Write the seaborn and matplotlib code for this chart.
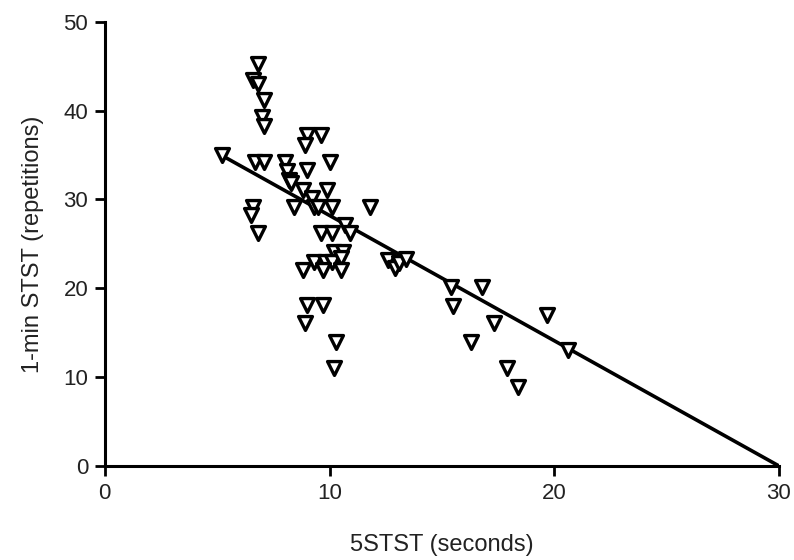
import matplotlib
matplotlib.use('Agg')
import matplotlib.pyplot as plt
import seaborn as sns
import numpy as np
import pandas as pd

# 5STST (seconds) vs 1-min STST (repetitions)
stst5_seconds = [5.2, 6.8, 6.6, 6.8, 7.1, 7.0, 7.1, 6.7, 7.1, 6.6,
                 6.5, 6.8, 8.0, 8.1, 8.2, 8.3, 8.4, 9.0, 9.6, 8.9,
                 10.0, 9.0, 8.8, 9.9, 9.2, 9.3, 9.5, 10.1, 11.8, 9.6,
                 10.1, 10.7, 10.9, 10.2, 10.6, 9.3, 9.8, 10.1, 10.5, 8.8,
                 9.7, 10.5, 12.6, 12.9, 13.1, 13.4, 9.0, 9.7, 8.9, 10.3,
                 10.2, 15.4, 16.8, 15.5, 17.3, 16.3, 19.7, 20.6, 17.9, 18.4]
stst1min_reps = [35.0, 45.3, 43.4, 43.0, 41.2, 39.3, 38.3, 34.2, 34.2, 29.2,
                 28.3, 26.2, 34.2, 33.2, 32.2, 31.9, 29.2, 37.3, 37.3, 36.1,
                 34.2, 33.3, 31.1, 31.1, 30.2, 29.2, 29.2, 29.2, 29.2, 26.2,
                 26.2, 27.1, 26.2, 24.1, 24.1, 23.0, 23.0, 23.0, 23.4, 22.1,
                 22.1, 22.1, 23.2, 22.3, 22.9, 23.3, 18.1, 18.1, 16.1, 14.0,
                 11.0, 20.2, 20.2, 18.0, 16.1, 14.0, 17.0, 13.1, 11.0, 8.9]

# fitted line as drawn in the figure
fit_range = [5.1, 30.0]
fit_intercept = 42.3
fit_slope = -1.41

df = pd.DataFrame({'x': stst5_seconds, 'y': stst1min_reps})
fit_x = np.array(fit_range)
fit_df = pd.DataFrame({'x': fit_x, 'y': fit_intercept + fit_slope * fit_x})

sns.set_style('ticks')
plt.rcParams['font.family'] = ['Liberation Sans', 'DejaVu Sans']

fig = plt.figure(figsize=(7.94, 5.6), dpi=100)
ax = fig.add_axes([0.132, 0.168, 0.849, 0.793])

sns.lineplot(data=fit_df, x='x', y='y', color='black', linewidth=2.6, ax=ax, zorder=2)
sns.scatterplot(data=df, x='x', y='y', marker='v', s=100, facecolor='white',
                edgecolor='black', linewidth=2.4, ax=ax, zorder=3, clip_on=False)

ax.set_xlim(0, 30)
ax.set_ylim(0, 50)
ax.set_xticks([0, 10, 20, 30])
ax.set_yticks([0, 10, 20, 30, 40, 50])
ax.set_xlabel('5STST (seconds)', fontsize=17, labelpad=22, color='#222222')
ax.set_ylabel('1-min STST (repetitions)', fontsize=17, labelpad=14, color='#222222')
ax.tick_params(axis='both', labelsize=16, width=2, length=7, color='black',
               pad=5, labelcolor='#222222')
for side in ['left', 'bottom']:
    ax.spines[side].set_linewidth(2.2)
    ax.spines[side].set_color('black')
sns.despine(ax=ax)

fig.savefig('out.png', dpi=100)
